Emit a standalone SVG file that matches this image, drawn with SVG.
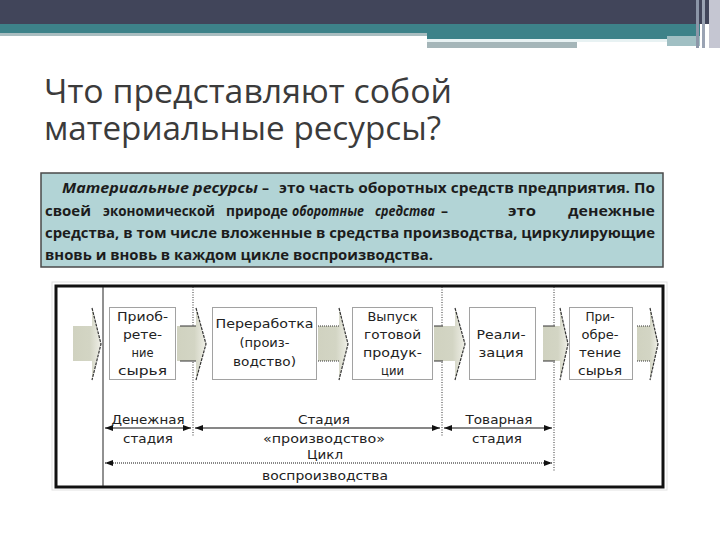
<svg xmlns="http://www.w3.org/2000/svg" width="720" height="540" viewBox="0 0 720 540">
<defs>
<style>
.title{font-family:"Open Sans","Liberation Sans",sans-serif;font-size:32px;fill:#3b3b3b}
.body{font-family:"Open Sans","Liberation Sans",sans-serif;font-size:14px;font-weight:bold;fill:#1c1c1c}
.it{font-style:italic}
.lbl{font-family:"DejaVu Sans","Liberation Sans",sans-serif;font-size:13px;fill:#222;text-anchor:middle}
.box{fill:#fff;stroke:#444;stroke-width:1;stroke-dasharray:1 1}
.vdot{stroke:#333;stroke-width:1;stroke-dasharray:1 1.5;fill:none}
.arr{fill:url(#ag);stroke:none}
.hedge{fill:none;stroke:#333;stroke-width:1.2;stroke-dasharray:3 1}
.sedge{fill:none;stroke:#333;stroke-width:1}
.dim{stroke:#111;stroke-width:1.2;fill:none;marker-start:url(#ah);marker-end:url(#ah)}
</style>
<linearGradient id="ag" x1="0" y1="0" x2="1" y2="0">
<stop offset="0" stop-color="#d0d2c0"/>
<stop offset="0.6" stop-color="#d3d5c4"/>
<stop offset="1" stop-color="#efefe7"/>
</linearGradient>
<marker id="ah" viewBox="0 0 10 10" refX="10" refY="5" markerWidth="8" markerHeight="6" markerUnits="userSpaceOnUse" orient="auto-start-reverse" preserveAspectRatio="none">
<path d="M0,0 L10,5 L0,10 Z" fill="#111"/>
</marker>
</defs>

<rect width="720" height="540" fill="#fff"/>

<g id="header">
<rect x="0" y="0" width="720" height="24" fill="#41455a"/>
<rect x="0" y="24" width="700" height="9" fill="#3d8289"/>
<rect x="0" y="33" width="427" height="3" fill="#a9bdc0"/>
<rect x="427" y="33" width="273" height="6" fill="#3d8289"/>
<rect x="427" y="39" width="240" height="3" fill="#e8f2f3"/>
<rect x="427" y="42" width="150" height="6" fill="#a5b6b9"/>
<rect x="667" y="36" width="33" height="10" fill="#a0bfc3"/>
<rect x="696" y="0" width="3" height="48" fill="#8c96a8"/>
<rect x="702" y="0" width="3" height="48" fill="#9aa3b3"/>
<rect x="709" y="0" width="11" height="48" fill="#c5c6d2"/>
</g>

<g id="title">
<text class="title" x="44" y="103" textLength="408" lengthAdjust="spacingAndGlyphs">Что представляют собой</text>
<text class="title" x="44" y="140" textLength="397" lengthAdjust="spacingAndGlyphs">материальные ресурсы?</text>
</g>

<g id="definition">
<rect x="41" y="173" width="622" height="94" fill="#b2d4d6" stroke="#4a4a4a" stroke-width="1.5"/>
<text class="body it" x="62" y="193" textLength="196" lengthAdjust="spacingAndGlyphs">Материальные ресурсы</text>
<text class="body" x="262" y="193">–</text>
<text class="body" x="279" y="193" textLength="376" lengthAdjust="spacingAndGlyphs">это часть оборотных средств предприятия. По</text>
<text class="body" x="45" y="216" textLength="46" lengthAdjust="spacingAndGlyphs">своей</text>
<text class="body" x="103" y="216" textLength="112" lengthAdjust="spacingAndGlyphs">экономической</text>
<text class="body" x="226" y="216" textLength="62" lengthAdjust="spacingAndGlyphs">природе</text>
<text class="body it" x="292" y="216" textLength="72" lengthAdjust="spacingAndGlyphs">оборотные</text>
<text class="body it" x="375" y="216" textLength="60" lengthAdjust="spacingAndGlyphs">средства</text>
<text class="body" x="441" y="216">–</text>
<text class="body" x="508" y="216" textLength="28" lengthAdjust="spacingAndGlyphs">это</text>
<text class="body" x="568" y="216" textLength="87" lengthAdjust="spacingAndGlyphs">денежные</text>
<text class="body" x="45" y="238" textLength="610" lengthAdjust="spacingAndGlyphs">средства, в том числе вложенные в средства производства, циркулирующие</text>
<text class="body" x="45" y="260" textLength="388" lengthAdjust="spacingAndGlyphs">вновь и вновь в каждом цикле воспроизводства.</text>
</g>

<g id="frame">
<rect x="52" y="282" width="615" height="208" fill="none" stroke="#e2e2e2" stroke-width="1"/>
<rect x="56" y="286" width="607" height="201" fill="#fff" stroke="#111" stroke-width="3"/>
<line x1="103" y1="287" x2="103" y2="486" stroke="#222" stroke-width="1"/>
<line class="vdot" x1="193" y1="287" x2="193" y2="437"/>
<line class="vdot" x1="442" y1="287" x2="442" y2="437"/>
<line class="vdot" x1="554" y1="287" x2="554" y2="472"/>
</g>

<g id="flow-arrows">
<path class="arr" d="M73,326 H92 V308 L101,344 L92,380 V361 H73 Z"/>
<path class="hedge" d="M92,308 L101,344 L92,380"/>

<path class="arr" d="M177,326 H196 V308 L206,344 L196,380 V361 H177 Z"/>
<path class="sedge" d="M180,326 H196 M180,361 H196"/>
<path class="hedge" d="M196,308 L206,344 L196,380"/>

<path class="arr" d="M318,326 H339 V308 L348,344 L339,380 V361 H318 Z"/>
<path class="sedge" d="M318,326 H339 M318,361 H339" stroke-dasharray="1 1"/>
<path class="hedge" d="M339,308 L348,344 L339,380"/>

<path class="arr" d="M434,326 H455 V308 L465,344 L455,380 V361 H434 Z"/>
<path class="sedge" d="M434,326 H443 M434,361 H443"/>
<path class="hedge" d="M455,308 L465,344 L455,380"/>

<path class="arr" d="M543,326 H560 V308 L568,344 L560,380 V361 H543 Z"/>
<path class="sedge" d="M543,326 H555 M543,361 H555"/>
<path class="hedge" d="M560,308 L568,344 L560,380"/>

<path class="arr" d="M637,326 H650 V308 L658,344 L650,380 V361 H637 Z"/>
<path class="sedge" d="M637,326 H650 M637,361 H650" stroke-dasharray="1 1"/>
<path class="hedge" d="M650,308 L658,344 L650,380"/>
</g>

<g id="node-priobretenie1">
<rect class="box" x="109.5" y="307.5" width="66" height="72"/>
<text class="lbl" x="142.5" y="321" textLength="51" lengthAdjust="spacingAndGlyphs">Приоб-</text>
<text class="lbl" x="142.5" y="339" textLength="39" lengthAdjust="spacingAndGlyphs">рете-</text>
<text class="lbl" x="142.5" y="357" textLength="22" lengthAdjust="spacingAndGlyphs">ние</text>
<text class="lbl" x="142.5" y="375" textLength="49" lengthAdjust="spacingAndGlyphs">сырья</text>
</g>
<g id="node-pererabotka">
<rect class="box" x="212.5" y="307.5" width="104" height="72"/>
<text class="lbl" x="264.5" y="328" textLength="98" lengthAdjust="spacingAndGlyphs">Переработка</text>
<text class="lbl" x="264.5" y="347" textLength="50" lengthAdjust="spacingAndGlyphs">(произ-</text>
<text class="lbl" x="264.5" y="366" textLength="63" lengthAdjust="spacingAndGlyphs">водство)</text>
</g>
<g id="node-vypusk">
<rect class="box" x="352.5" y="307.5" width="80" height="72"/>
<text class="lbl" x="392.5" y="321" textLength="50" lengthAdjust="spacingAndGlyphs">Выпуск</text>
<text class="lbl" x="392.5" y="339" textLength="57" lengthAdjust="spacingAndGlyphs">готовой</text>
<text class="lbl" x="392.5" y="357" textLength="59" lengthAdjust="spacingAndGlyphs">продук-</text>
<text class="lbl" x="392.5" y="375" textLength="23" lengthAdjust="spacingAndGlyphs">ции</text>
</g>
<g id="node-realizatsiya">
<rect class="box" x="469.5" y="307.5" width="66" height="72"/>
<text class="lbl" x="501" y="339" textLength="49" lengthAdjust="spacingAndGlyphs">Реали-</text>
<text class="lbl" x="501" y="357" textLength="45" lengthAdjust="spacingAndGlyphs">зация</text>
</g>
<g id="node-priobretenie2">
<rect class="box" x="569.5" y="307.5" width="63" height="72"/>
<text class="lbl" x="600" y="321" textLength="29" lengthAdjust="spacingAndGlyphs">При-</text>
<text class="lbl" x="600" y="339" textLength="37" lengthAdjust="spacingAndGlyphs">обре-</text>
<text class="lbl" x="600" y="357" textLength="42" lengthAdjust="spacingAndGlyphs">тение</text>
<text class="lbl" x="600" y="375" textLength="44" lengthAdjust="spacingAndGlyphs">сырья</text>
</g>

<g id="connectors">
<line class="dim" x1="105" y1="428" x2="191" y2="428"/>
<line class="dim" x1="195" y1="428" x2="440" y2="428"/>
<line class="dim" x1="444" y1="428" x2="552" y2="428"/>
<line class="dim" x1="105" y1="463" x2="552" y2="463" stroke-dasharray="1 1"/>
</g>

<g id="stage-labels">
<text class="lbl" x="148" y="424" textLength="73" lengthAdjust="spacingAndGlyphs">Денежная</text>
<text class="lbl" x="148" y="443" textLength="50" lengthAdjust="spacingAndGlyphs">стадия</text>
<text class="lbl" x="324" y="424" textLength="52" lengthAdjust="spacingAndGlyphs">Стадия</text>
<text class="lbl" x="324" y="443" textLength="122" lengthAdjust="spacingAndGlyphs">«производство»</text>
<text class="lbl" x="499" y="424" textLength="67" lengthAdjust="spacingAndGlyphs">Товарная</text>
<text class="lbl" x="497" y="443" textLength="50" lengthAdjust="spacingAndGlyphs">стадия</text>
<text class="lbl" x="325" y="459" textLength="36" lengthAdjust="spacingAndGlyphs">Цикл</text>
<text class="lbl" x="325" y="480" textLength="126" lengthAdjust="spacingAndGlyphs">воспроизводства</text>
</g>
</svg>
